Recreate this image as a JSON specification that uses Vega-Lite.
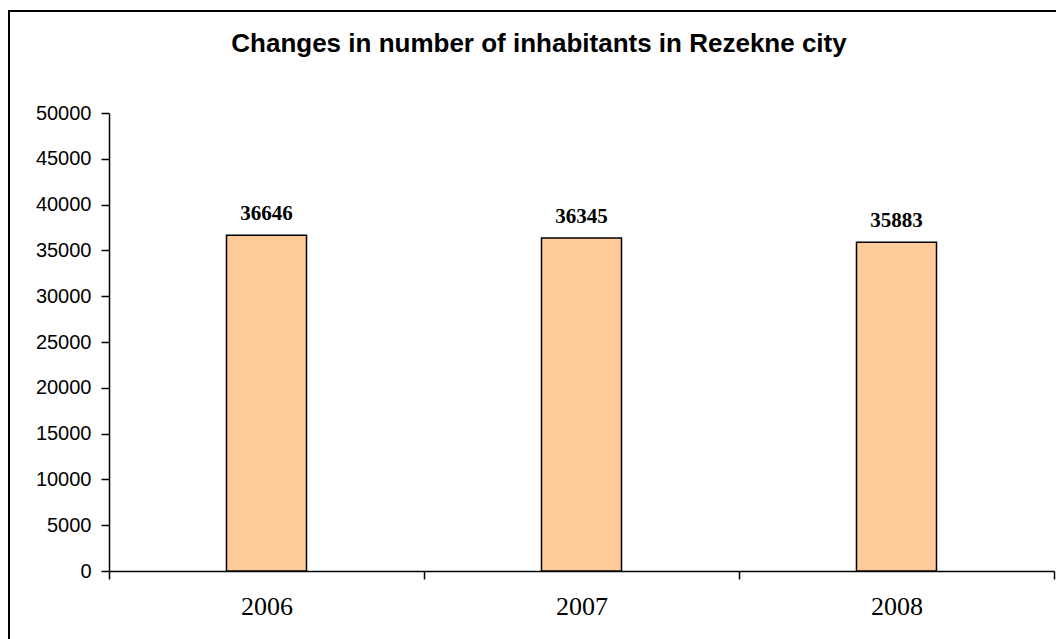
{
  "$schema": "https://vega.github.io/schema/vega-lite/v6.json",
  "autosize": {"type": "none"},
  "padding": {"left": 9, "top": 11, "right": 0, "bottom": 0},
  "width": 1060,
  "height": 640,
  "background": "white",
  "config": {
    "view": {"stroke": "black", "strokeWidth": 2}
  },
  "title": {
    "text": "Changes in number of inhabitants in Rezekne city",
    "font": "Liberation Sans",
    "fontSize": 26,
    "fontWeight": "bold",
    "color": "black",
    "anchor": "middle",
    "frame": "group",
    "offset": 0,
    "dy": 46
  },
  "data": {
    "values": [
      {"year": "2006", "inhabitants": 36646},
      {"year": "2007", "inhabitants": 36345},
      {"year": "2008", "inhabitants": 35883}
    ]
  },
  "encoding": {
    "x": {
      "field": "year",
      "type": "nominal",
      "scale": {"type": "band", "range": [100, 1045], "paddingInner": 0, "paddingOuter": 0},
      "axis": {
        "title": null,
        "offset": -80,
        "labelAngle": 0,
        "labelFont": "Liberation Serif",
        "labelFontSize": 26,
        "labelColor": "black",
        "labelPadding": 14,
        "tickBand": "extent",
        "tickSize": 8,
        "tickColor": "black",
        "tickWidth": 1.5,
        "domainColor": "black",
        "domainWidth": 1.5,
        "grid": false
      }
    },
    "y": {
      "field": "inhabitants",
      "type": "quantitative",
      "scale": {"domain": [0, 50000], "range": [560, 102], "nice": false, "zero": true},
      "axis": {
        "title": null,
        "offset": -100,
        "format": "d",
        "values": [0, 5000, 10000, 15000, 20000, 25000, 30000, 35000, 40000, 45000, 50000],
        "labelFont": "Liberation Sans",
        "labelFontSize": 20,
        "labelColor": "black",
        "labelPadding": 10,
        "tickSize": 8,
        "tickColor": "black",
        "tickWidth": 1.5,
        "domainColor": "black",
        "domainWidth": 1.5,
        "grid": false
      }
    }
  },
  "layer": [
    {
      "mark": {"type": "bar", "fill": "#FFCC99", "stroke": "black", "strokeWidth": 1.5, "width": {"band": 0.254}}
    },
    {
      "mark": {"type": "text", "font": "Liberation Serif", "fontWeight": "bold", "fontSize": 21, "color": "black", "baseline": "alphabetic", "dy": -15},
      "encoding": {"text": {"field": "inhabitants", "type": "quantitative", "format": "d"}}
    }
  ]
}
